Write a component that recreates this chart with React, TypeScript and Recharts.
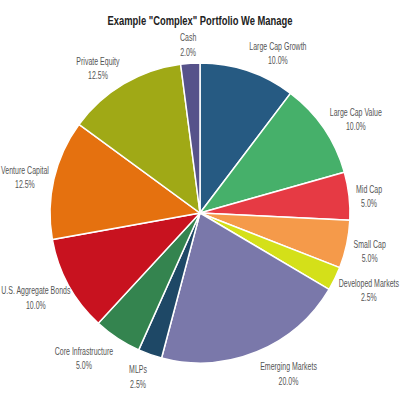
import React from 'react';
import { PieChart, Pie, Cell } from 'recharts';

const categories = [
  'Large Cap Growth', 'Large Cap Value', 'Mid Cap', 'Small Cap', 'Developed Markets',
  'Emerging Markets', 'MLPs', 'Core Infrastructure', 'U.S. Aggregate Bonds',
  'Venture Capital', 'Private Equity', 'Cash',
];
const allocations = [10, 10, 5, 5, 2.5, 20, 2.5, 5, 10, 12.5, 12.5, 2];
const colors = [
  '#265A82', '#46B06A', '#E63A44', '#F59A4A', '#D4E019', '#7A78AA',
  '#1E4866', '#34844F', '#C8121F', '#E5710F', '#A0A916', '#56528A',
];
const title = 'Example "Complex" Portfolio We Manage';

const data = categories.map((name, i) => ({ name, value: allocations[i] }));

const FONT = '"Liberation Sans", Arial, sans-serif';
const FS = 10;
const SX = 0.7;
const W = 400;
let ctx: CanvasRenderingContext2D | null = null;
function measure(t: string): number {
  if (!ctx) {
    const c = document.createElement('canvas');
    ctx = c.getContext('2d');
  }
  if (!ctx) return t.length * 5 * SX;
  ctx.font = `${FS}px ${FONT}`;
  return ctx.measureText(t).width * SX;
}

const RAD = Math.PI / 180;
const renderLabel = (props: any) => {
  const { cx, cy, midAngle, outerRadius, name, value } = props;
  const dx = Math.cos(-midAngle * RAD);
  const dy = Math.sin(-midAngle * RAD);
  const r = outerRadius + 6;
  const ax = cx + r * dx;
  const ay = cy + r * dy;
  const pct = `${Number(value).toFixed(1)}%`;
  const w = Math.max(measure(name), measure(pct));
  const k = Math.max(-1, Math.min(1, dx * 3));
  let bx = ax + (k * (w + 2)) / 2;
  bx = Math.max(w / 2 + 1, Math.min(W - w / 2 - 1, bx));
  const by = ay + dy * 15 + 2.5;
  return (
    <g key={name} transform={`translate(${bx},${by}) scale(${SX},1)`}>
      <text x={0} y={-7} textAnchor="middle" dominantBaseline="central"
        fontFamily={FONT} fontSize={FS} fill="#555">{name}</text>
      <text x={0} y={7.5} textAnchor="middle" dominantBaseline="central"
        fontFamily={FONT} fontSize={FS} fill="#555">{pct}</text>
    </g>
  );
};

export default function App() {
  return (
    <div style={{ position: 'absolute', left: 0, top: 0, width: 400, height: 399, background: '#fff' }}>
      <svg style={{ position: 'absolute', left: 0, top: 0 }} width={400} height={30}>
        <text x={200} y={24.5} textAnchor="middle" fontFamily={FONT} fontWeight="bold"
          fontSize={12} fill="#222" textLength={185} lengthAdjust="spacingAndGlyphs">{title}</text>
      </svg>
      <PieChart width={400} height={399}>
        <Pie
          data={data}
          dataKey="value"
          nameKey="name"
          cx={195}
          cy={208}
          outerRadius={150}
          startAngle={90}
          endAngle={-270}
          stroke="#fff"
          strokeWidth={1.5}
          labelLine={false}
          label={renderLabel}
          isAnimationActive={false}
        >
          {data.map((d, i) => (
            <Cell key={d.name} fill={colors[i]} />
          ))}
        </Pie>
      </PieChart>
    </div>
  );
}
